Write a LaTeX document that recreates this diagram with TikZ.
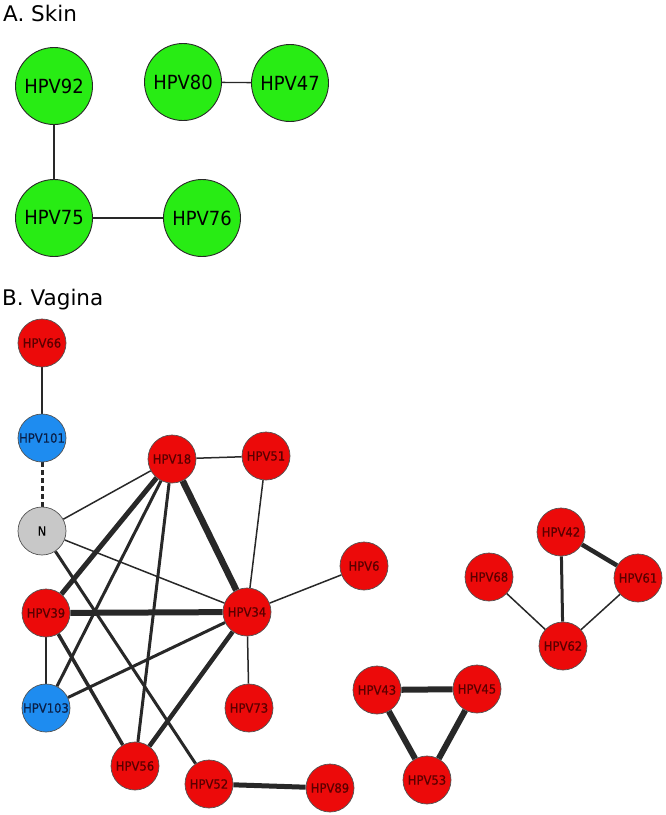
\documentclass[tikz,border=0pt]{standalone}
\usepackage{fontspec}
\setmainfont{DejaVu Sans}
\newfontfamily\lblfont[FakeStretch=0.92]{DejaVu Sans}
\newfontfamily\smlblfont[FakeStretch=0.92,FakeBold=0.6]{DejaVu Sans}
\usetikzlibrary{backgrounds}
\definecolor{skgreen}{RGB}{40,236,20}
\definecolor{vred}{RGB}{236,10,10}
\definecolor{vblue}{RGB}{30,140,240}
\definecolor{vgray}{RGB}{200,200,200}
\definecolor{edgec}{RGB}{40,40,40}
\definecolor{redtxt}{RGB}{90,0,0}
\definecolor{bluetxt}{RGB}{10,30,70}
\tikzset{
  skinnode/.style={circle,draw=edgec,line width=0.9pt,fill=skgreen,minimum size=77pt,inner sep=0pt,
    font=\lblfont\fontsize{19.5pt}{20pt}\selectfont,text=black},
  vnode/.style={circle,draw=edgec!80,line width=0.7pt,minimum size=48pt,inner sep=0pt,
    font=\smlblfont\fontsize{12.6pt}{13pt}\selectfont},
  rednode/.style={vnode,fill=vred,text=redtxt},
  bluenode/.style={vnode,fill=vblue,text=bluetxt},
  graynode/.style={vnode,fill=vgray,text=black},
  titletext/.style={anchor=base west,inner sep=0pt,font=\fontsize{21.5pt}{22pt}\selectfont},
  ed/.style={draw=edgec,line width=#1},
  ed/.default=1.5pt
}
\begin{document}
\begin{tikzpicture}[x=1pt,y=-1pt]
\useasboundingbox (0,0) rectangle (666,815);
% titles
\node[titletext] (ta) at (3,21) {A. Skin};
\node[titletext] (tb) at (2,305) {B. Vagina};
% skin
\node[skinnode] (s92) at (54,86) {HPV92};
\node[skinnode] (s80) at (183,82) {HPV80};
\node[skinnode] (s47) at (290,83) {HPV47};
\node[skinnode] (s75) at (54,218) {HPV75};
\node[skinnode] (s76) at (202,218) {HPV76};
% vagina
\node[rednode] (v66) at (42,343) {HPV66};
\node[bluenode] (v101) at (42,438) {HPV101};
\node[rednode] (v18) at (172,459) {HPV18};
\node[rednode] (v51) at (266,456) {HPV51};
\node[graynode] (vN) at (42,531) {N};
\node[rednode] (v6) at (364,566) {HPV6};
\node[rednode] (v39) at (46,613) {HPV39};
\node[rednode] (v34) at (247,612) {HPV34};
\node[bluenode] (v103) at (46,708) {HPV103};
\node[rednode] (v73) at (249,708) {HPV73};
\node[rednode] (v56) at (135,766) {HPV56};
\node[rednode] (v52) at (209,784) {HPV52};
\node[rednode] (v89) at (330,788) {HPV89};
\node[rednode] (v43) at (377,690) {HPV43};
\node[rednode] (v45) at (477,689) {HPV45};
\node[rednode] (v53) at (427,780) {HPV53};
\node[rednode] (v42) at (561,532) {HPV42};
\node[rednode] (v68) at (489,577) {HPV68};
\node[rednode] (v61) at (638,578) {HPV61};
\node[rednode] (v62) at (563,646) {HPV62};
\begin{pgfonlayer}{background}
% skin edges
\draw[ed=1.3pt] (s92) -- (s75);
\draw[ed=1.3pt] (s80) -- (s47);
\draw[ed=1.3pt] (s75) -- (s76);
% vagina edges
\draw[ed=2pt] (v66) -- (v101);
\draw[ed=3pt,dash pattern=on 4.5pt off 3.5pt] (v101) -- (vN);
\draw[ed] (v18) -- (v51);
\draw[ed] (v18) -- (vN);
\draw[ed=5pt] (v18) -- (v39);
\draw[ed=3pt] (v18) -- (v103);
\draw[ed=3pt] (v18) -- (v56);
\draw[ed=6.5pt] (v18) -- (v34);
\draw[ed] (v51) -- (v34);
\draw[ed] (vN) -- (v34);
\draw[ed=3pt] (vN) -- (v52);
\draw[ed=6pt] (v39) -- (v34);
\draw[ed] (v39) -- (v103);
\draw[ed=3.5pt] (v39) -- (v56);
\draw[ed=3pt] (v103) -- (v34);
\draw[ed=4.5pt] (v56) -- (v34);
\draw[ed] (v34) -- (v6);
\draw[ed] (v34) -- (v73);
\draw[ed=5pt] (v52) -- (v89);
\draw[ed=6pt] (v43) -- (v45);
\draw[ed=6pt] (v43) -- (v53);
\draw[ed=6pt] (v45) -- (v53);
\draw[ed=4.5pt] (v42) -- (v61);
\draw[ed=3pt] (v42) -- (v62);
\draw[ed] (v68) -- (v62);
\draw[ed] (v61) -- (v62);
\end{pgfonlayer}
\end{tikzpicture}
\end{document}
